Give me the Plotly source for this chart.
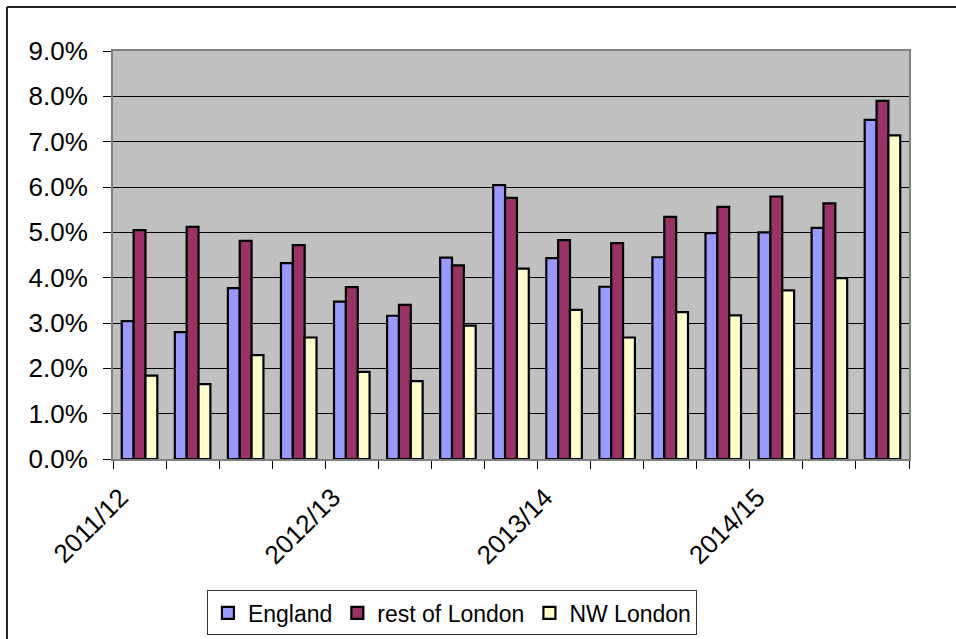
import plotly.graph_objects as go

categories = [
    "2011/12 Q1", "2011/12 Q2", "2011/12 Q3", "2011/12 Q4",
    "2012/13 Q1", "2012/13 Q2", "2012/13 Q3", "2012/13 Q4",
    "2013/14 Q1", "2013/14 Q2", "2013/14 Q3", "2013/14 Q4",
    "2014/15 Q1", "2014/15 Q2", "2014/15 Q3",
]
tick_labels = ["2011/12", "", "", "", "2012/13", "", "", "", "2013/14", "", "", "", "2014/15", "", ""]

england = [3.04, 2.80, 3.77, 4.32, 3.47, 3.16, 4.44, 6.04, 4.43, 3.80, 4.45, 4.98, 5.00, 5.10, 7.48]
rest_of_london = [5.05, 5.12, 4.81, 4.72, 3.79, 3.40, 4.27, 5.76, 4.83, 4.76, 5.34, 5.56, 5.79, 5.64, 7.90]
nw_london = [1.84, 1.65, 2.29, 2.68, 1.92, 1.72, 2.94, 4.20, 3.29, 2.68, 3.24, 3.17, 3.72, 3.99, 7.14]

series = [
    ("England", england, "#9999FF"),
    ("rest of London", rest_of_london, "#993366"),
    ("NW London", nw_london, "#FFFFCC"),
]

fig = go.Figure()
for name, vals, color in series:
    fig.add_trace(go.Bar(
        x=categories,
        y=[v / 100 for v in vals],
        name=name,
        marker=dict(color=color, line=dict(color="#000000", width=2.2)),
    ))

font_family = "Arial, Liberation Sans, sans-serif"

fig.update_layout(
    width=956, height=639,
    margin=dict(l=113, r=47, t=51, b=180, autoexpand=False),
    paper_bgcolor="#FFFFFF",
    plot_bgcolor="#C0C0C0",
    barmode="group",
    bargap=0.33,
    bargroupgap=0,
    font=dict(family=font_family, size=26, color="#000000"),
    showlegend=True,
    legend=dict(
        orientation="h",
        x=0.118, y=-0.322, xanchor="left", yanchor="top",
        bgcolor="#FFFFFF", bordercolor="#333333", borderwidth=1,
        font=dict(family=font_family, size=23, color="#000000"),
        traceorder="normal",
        tracegroupgap=0,
    ),
    xaxis=dict(
        type="category",
        automargin=False,
        tickmode="array",
        tickvals=categories,
        ticktext=tick_labels,
        tickson="boundaries",
        ticks="outside", ticklen=8, tickwidth=1, tickcolor="#000000",
        tickangle=-45,
        ticklabelstandoff=11,
        ticklabelshift=-19,
        showline=True, linecolor="#808080", linewidth=2, mirror=True,
        showgrid=False,
        tickfont=dict(family=font_family, size=26, color="#000000"),
    ),
    yaxis=dict(
        automargin=False,
        range=[0, 0.09],
        dtick=0.01,
        tickformat=".1%",
        ticks="outside", ticklen=8, tickwidth=1, tickcolor="#000000",
        showline=True, linecolor="#808080", linewidth=2, mirror=True,
        showgrid=True, gridcolor="#000000", gridwidth=1,
        zeroline=False,
        ticklabelstandoff=10,
        tickfont=dict(family=font_family, size=26, color="#000000"),
    ),
    shapes=[
        dict(type="line", xref="paper", yref="paper",
             x0=-0.1332, x1=1.2, y0=1.1078, y1=1.1078,
             line=dict(color="#222222", width=2), layer="below"),
        dict(type="line", xref="paper", yref="paper",
             x0=-0.1332, x1=-0.1332, y0=-0.8, y1=1.1078,
             line=dict(color="#222222", width=2), layer="below"),
    ],
)

fig.write_html("out.html")
